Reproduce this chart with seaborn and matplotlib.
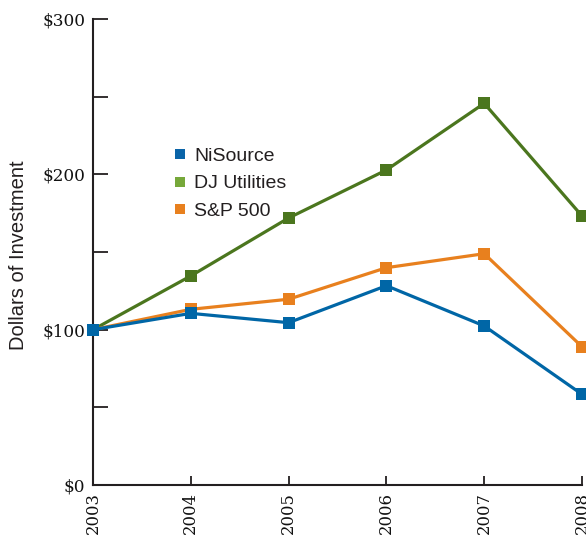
import matplotlib
matplotlib.use("Agg")
import matplotlib.pyplot as plt
from matplotlib.lines import Line2D
import seaborn as sns
import pandas as pd

years = [2003, 2004, 2005, 2006, 2007, 2008]
nisource = [100, 110.5, 104.5, 128.3, 102.4, 58.4]
dj_utilities = [100, 134.6, 171.9, 202.8, 245.7, 173.2]
sp500 = [100, 113.1, 119.6, 139.9, 148.9, 89.0]
series_names = ["NiSource", "DJ Utilities", "S&P 500"]
y_ticks = [0, 100, 200, 300]
y_tick_labels = ["$0", "$100", "$200", "$300"]
y_minor = [50, 150, 250]

line_colors = {"NiSource": "#0066a6", "DJ Utilities": "#4b761e", "S&P 500": "#e8801e"}
legend_colors = {"NiSource": "#0a64a8", "DJ Utilities": "#76a83a", "S&P 500": "#e8801e"}

df = pd.DataFrame({
    "Year": years * 3,
    "Value": nisource + dj_utilities + sp500,
    "Series": [series_names[0]] * 6 + [series_names[1]] * 6 + [series_names[2]] * 6,
})

sns.set_theme(style="white")
plt.rcParams["font.family"] = ["Liberation Sans", "DejaVu Sans"]

fig = plt.figure(figsize=(5.86, 5.38), dpi=100)
ax = fig.add_axes([93 / 586, 1 - 485 / 538, (582 - 93) / 586, (485 - 19) / 538])

sns.lineplot(
    data=df, x="Year", y="Value", hue="Series",
    hue_order=["DJ Utilities", "S&P 500", "NiSource"],
    palette=line_colors, marker="s", markersize=9, markeredgewidth=0,
    linewidth=2.3, legend=False, ax=ax, clip_on=False, zorder=5,
)

ax.set_xlim(2003, 2008)
ax.set_ylim(0, 300)
ax.set_xticks(years)
ax.set_xticklabels([str(y) for y in years], rotation=90, family="DejaVu Serif", fontsize=11.8)
ax.set_yticks(y_ticks)
ax.set_yticklabels(y_tick_labels, family="DejaVu Serif", fontsize=12.2)
ax.set_yticks(y_minor, minor=True)

for s in ["top", "right"]:
    ax.spines[s].set_visible(False)
for s in ["left", "bottom"]:
    ax.spines[s].set_color("#231f20")
    ax.spines[s].set_linewidth(1.5)

ax.tick_params(axis="y", which="both", direction="in", length=11, width=1.3,
               color="#231f20", pad=5.5, labelcolor="#111111", left=True)
ax.tick_params(axis="x", which="major", direction="in", length=6.5, width=1.3,
               color="#231f20", pad=5, labelcolor="#111111", bottom=True)

ax.set_xlabel("")
ax.set_ylabel("Dollars of Investment", fontsize=14.5, color="#231f20", va="center")
ax.yaxis.set_label_coords((19 - 93) / 489, (485 - 255.5) / 466)

handles = [Line2D([], [], linestyle="none", marker="s", markersize=6.5,
                  markeredgewidth=0, color=legend_colors[n]) for n in series_names]
leg = fig.legend(handles, series_names, loc="upper left",
                 bbox_to_anchor=(174 / 586, 1 - 147.5 / 538), frameon=False,
                 fontsize=14, handlelength=0.6, handletextpad=0.45,
                 labelspacing=0.5, borderpad=0, borderaxespad=0)
for t in leg.get_texts():
    t.set_color("#231f20")

fig.savefig("out.png", dpi=100, facecolor="white")
